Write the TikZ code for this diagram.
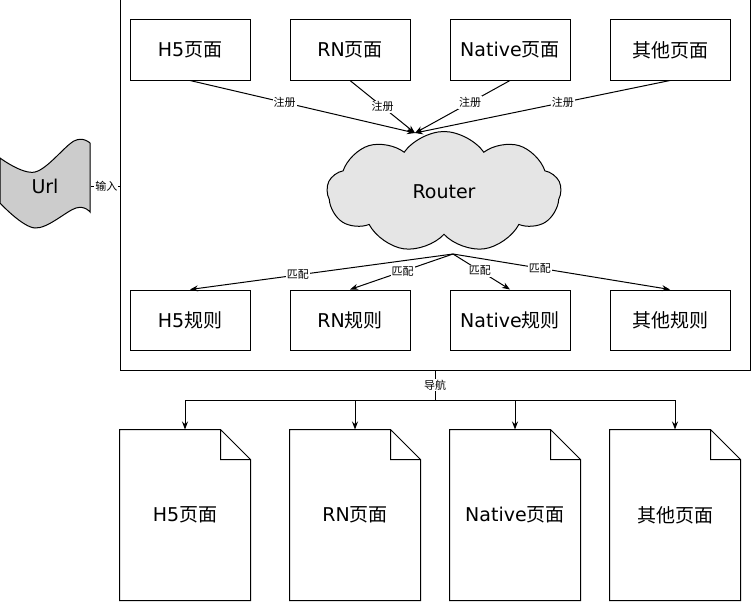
\documentclass[tikz,border=0pt]{standalone}
\usepackage{fontspec}
\setmainfont{DejaVu Sans}
\newfontfamily\cjk{Noto Sans CJK SC}
\newcommand{\zh}[1]{{\cjk #1}}
\usetikzlibrary{arrows.meta,shapes.symbols,positioning}

\begin{document}
\begin{tikzpicture}[x=1pt,y=-1pt,line width=1pt,
                    >={Stealth[length=8pt,width=6pt]},
                    big/.style={font=\fontsize{19}{22}\selectfont},
                    box node/.style={rectangle,draw,big,minimum width=120pt,minimum height=60pt},
                    doc node/.style={rectangle,big,minimum width=130pt,minimum height=170pt},
                    tag/.style={fill=white,inner sep=1pt,font=\cjk\fontsize{11}{13}\selectfont}]
  \useasboundingbox (0,0) rectangle (751,602);

  \node[draw,minimum width=630pt,minimum height=370pt] (frame) at (435,185) {};

  % pages
  \node[box node] (p1) at (190,50) {H5\zh{页面}};
  \node[box node] (p2) [right=39pt of p1] {RN\zh{页面}};
  \node[box node] (p3) [right=39pt of p2] {Native\zh{页面}};
  \node[box node] (p4) [right=39pt of p3] {\zh{其他页面}};

  % rules
  \node[box node] (r1) at (190,320) {H5\zh{规则}};
  \node[box node] (r2) [right=39pt of r1] {RN\zh{规则}};
  \node[box node] (r3) [right=39pt of r2] {Native\zh{规则}};
  \node[box node] (r4) [right=39pt of r3] {\zh{其他规则}};

  \node[cloud,draw,fill=gray!20,cloud puffs=9,cloud puff arc=110,aspect=1.9,big,
        minimum width=234pt,minimum height=121pt] (router) at (444,192) {Router};
  \coordinate (rin) at (415,133);
  \coordinate (rout) at (453,254);

  % url tape
  \draw[fill=gray!40] plot[smooth,tension=0.6] coordinates {(0,158) (35,172) (74,141) (90,143)}
    -- plot[smooth,tension=0.6] coordinates {(90,212) (76,208) (35,228) (0,203)} -- cycle;
  \node[big,inner sep=0pt,minimum width=90pt,minimum height=60pt] (url) at (45,186) {Url};

  \path[->]
    (p1.south) edge node[tag,pos=0.42] {注册} (rin)
    (p2.south) edge node[tag,pos=0.5] {注册} (rin)
    (p3.south) edge node[tag,pos=0.42] {注册} (rin)
    (p4.south) edge node[tag,pos=0.42] {注册} (rin)
    (rout) edge node[tag,pos=0.59] {匹配} (r1.north)
           edge node[tag,pos=0.49] {匹配} (r2.north)
           edge node[tag,pos=0.47] {匹配} (r3.north)
           edge node[tag,pos=0.4] {匹配} (r4.north);

  \draw (url.east) -- node[tag,pos=0.55] {输入} (url.east -| frame.west);

  % documents
  \node[doc node] (d1) at (185,515) {H5\zh{页面}};
  \node[doc node] (d2) [right=39pt of d1] {RN\zh{页面}};
  \node[doc node] (d3) [right=29pt of d2] {Native\zh{页面}};
  \node[doc node] (d4) [right=29pt of d3] {\zh{其他页面}};
  \foreach \d in {d1,d2,d3,d4}
    \draw (\d.north west) -- ([xshift=-30pt]\d.north east) -- ([yshift=-30pt]\d.north east)
          -- (\d.south east) -- (\d.south west) -- cycle
          ([xshift=-30pt]\d.north east) |- ([yshift=-30pt]\d.north east);

  \coordinate (nav) at (435,400);
  \draw (frame.south) -- node[tag] {导航} (nav);
  \foreach \d in {d1,d2,d3,d4}
    \draw[->] (nav) -| (\d.north);
\end{tikzpicture}
\end{document}
